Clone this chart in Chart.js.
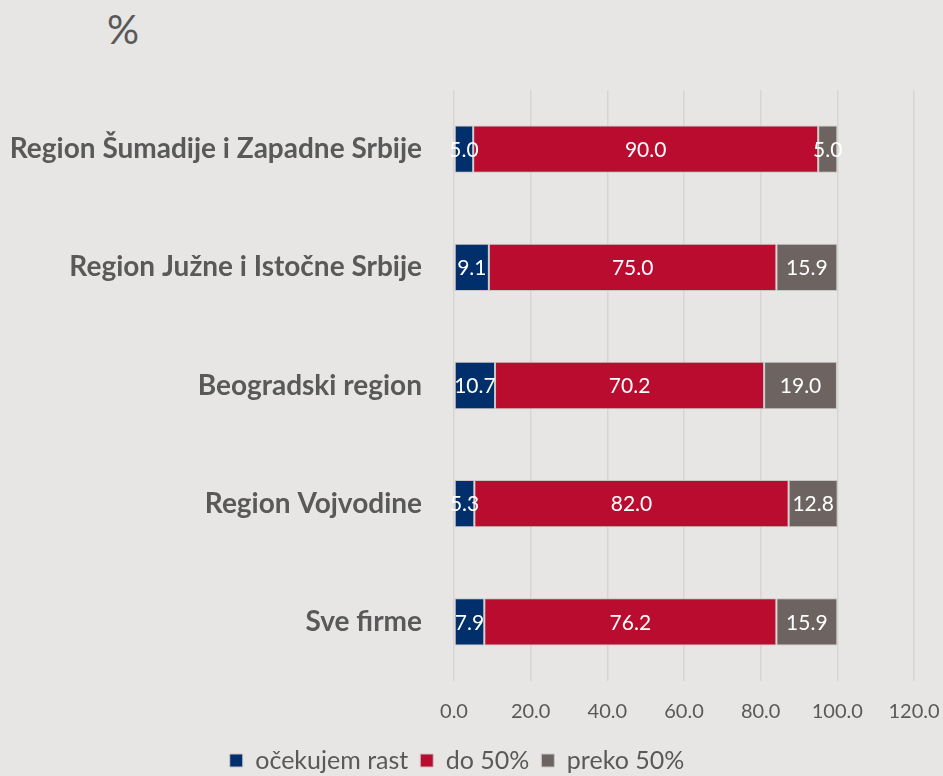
<!DOCTYPE html>
<html>
<head>
<meta charset="utf-8">
<script src="https://cdn.jsdelivr.net/npm/chart.js@4"></script>
<style>
    html, body { margin: 0; padding: 0; background: #e7e6e4; }
    #wrap { position: relative; width: 943px; height: 776px; }
    #unit { position: absolute; left: 107px; top: 5px; font: 40px Lato, sans-serif; color: #595959; }
    canvas { position: absolute; left: 0; top: 0; }
</style>
</head>
<body>
<div id="wrap">
    <div id="unit">%</div>
    <canvas id="chart" width="943" height="776"></canvas>
</div>
<script>
// Chart data
const regions = ["Region Šumadije i Zapadne Srbije", "Region Južne i Istočne Srbije", "Beogradski region", "Region Vojvodine", "Sve firme"];
const growth = [5.0, 9.1, 10.7, 5.3, 7.9];
const upTo50 = [90.0, 75.0, 70.2, 82.0, 76.2];
const over50 = [5.0, 15.9, 19.0, 12.8, 15.9];
const seriesNames = ["očekujem rast", "do 50%", "preko 50%"];
const tickValues = [0, 20, 40, 60, 80, 100, 120];

const GREY_TEXT = "#595959";

// Draws the value in the middle of every bar segment
const barLabels = {
    id: "barLabels",
    afterDatasetsDraw(chart) {
        const ctx = chart.ctx;
        ctx.save();
        ctx.font = "21px Lato, sans-serif";
        ctx.fillStyle = "white";
        ctx.textAlign = "center";
        ctx.textBaseline = "middle";
        chart.data.datasets.forEach((dataset, i) => {
            chart.getDatasetMeta(i).data.forEach((bar, j) => {
                const pos = bar.getCenterPoint();
                ctx.fillText(dataset.data[j].toFixed(1), pos.x, pos.y + 1);
            });
        });
        ctx.restore();
    }
};

new Chart(document.getElementById("chart"), {
    type: "bar",
    data: {
        labels: regions,
        datasets: [
            { label: seriesNames[0], data: growth, backgroundColor: "#002f6c" },
            { label: seriesNames[1], data: upTo50, backgroundColor: "#ba0c2f" },
            { label: seriesNames[2], data: over50, backgroundColor: "#6d6461" }
        ].map(d => ({ ...d, borderColor: "#c9c7c5", borderWidth: 1, borderSkipped: false, barPercentage: 0.4, categoryPercentage: 1 }))
    },
    options: {
        indexAxis: "y",
        responsive: false,
        animation: false,
        layout: { padding: { top: 90, right: 29, bottom: -7, left: 0 } },
        scales: {
            x: {
                stacked: true,
                min: 0,
                max: 120,
                afterBuildTicks: axis => { axis.ticks = tickValues.map(v => ({ value: v })); },
                afterFit: scale => { scale.paddingRight = 0; scale.paddingLeft = 0; scale.height = 55; },
                grid: { color: "#d6d5d3", lineWidth: 1.5, drawTicks: false },
                border: { display: false },
                ticks: {
                    padding: 19,
                    color: GREY_TEXT,
                    font: { family: "Lato", size: 20 },
                    callback: v => v.toFixed(1)
                }
            },
            y: {
                stacked: true,
                grid: { display: false },
                border: { display: false },
                afterFit: scale => { scale.width = 454; },
                ticks: {
                    padding: 24,
                    color: GREY_TEXT,
                    font: { family: "Lato", size: 28, weight: "bold" }
                }
            }
        },
        plugins: {
            legend: {
                position: "bottom",
                labels: {
                    color: GREY_TEXT,
                    font: { family: "Lato", size: 25 },
                    boxWidth: 13,
                    boxHeight: 13,
                    padding: 12
                }
            },
            tooltip: { enabled: false }
        }
    },
    plugins: [barLabels]
});
</script>
</body>
</html>
